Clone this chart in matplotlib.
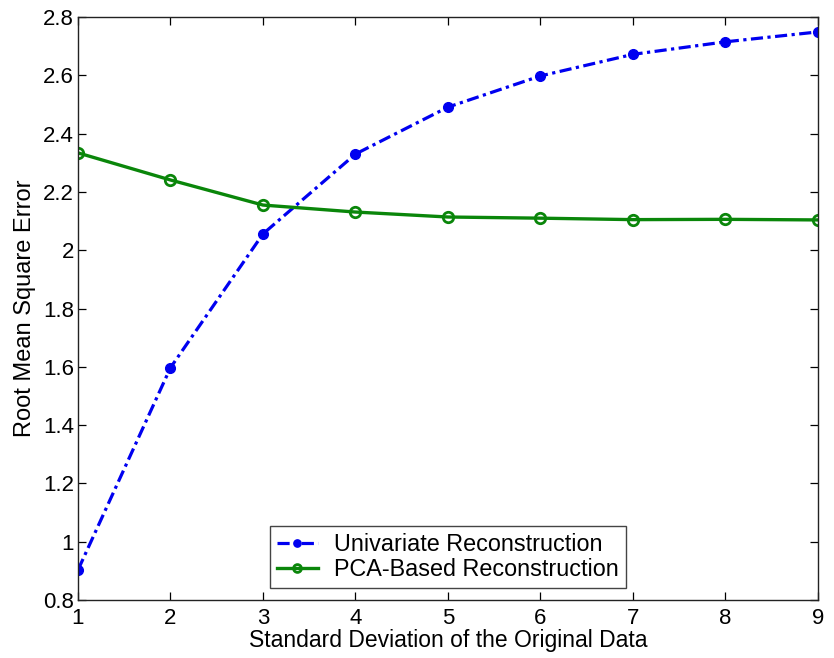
import matplotlib
matplotlib.use("Agg")
import matplotlib.pyplot as plt

plt.rcParams['font.family'] = ['Liberation Sans', 'DejaVu Sans']

std_dev = [1, 2, 3, 4, 5, 6, 7, 8, 9]
univariate = [0.903, 1.597, 2.056, 2.330, 2.491, 2.598, 2.672, 2.715, 2.749]
pca_based = [2.334, 2.241, 2.155, 2.131, 2.114, 2.110, 2.105, 2.106, 2.104]
y_ticks = [0.8, 1, 1.2, 1.4, 1.6, 1.8, 2, 2.2, 2.4, 2.6, 2.8]
y_tick_labels = ['0.8', '1', '1.2', '1.4', '1.6', '1.8', '2', '2.2', '2.4', '2.6', '2.8']

fig = plt.figure(figsize=(8.34, 6.58), dpi=100)
ax = fig.add_axes([0.0935, 0.0881, 0.8873, 0.886])

ax.plot(std_dev, univariate, color='#0000f0', linestyle=(0, (3.8, 1.4, 1.0, 1.4)),
        linewidth=2.3, marker='o', markersize=7, label='Univariate Reconstruction')
ax.plot(std_dev, pca_based, color='#0a860a', linestyle='-', linewidth=2.4,
        marker='o', markersize=7.5, markerfacecolor='none', markeredgewidth=2,
        label='PCA-Based Reconstruction')

ax.set_xlim(1, 9)
ax.set_ylim(0.8, 2.8)
ax.set_xticks(std_dev)
ax.set_yticks(y_ticks)
ax.set_yticklabels(y_tick_labels)
ax.tick_params(direction='in', top=True, right=True, labelsize=16, length=6, width=0.9)
ax.tick_params(axis='x', pad=6)
ax.tick_params(axis='y', pad=3)
for s in ax.spines.values():
    s.set_linewidth(1.0)
    s.set_color('#222222')

ax.set_xlabel('Standard Deviation of the Original Data', fontsize=16.5, labelpad=0)
ax.set_ylabel('Root Mean Square Error', fontsize=17, labelpad=5)

leg = ax.legend(loc='lower center', bbox_to_anchor=(0.5, 0.02), fontsize=16.8,
                frameon=True, fancybox=False, edgecolor='#444444', framealpha=1,
                borderpad=0.3, labelspacing=0.1, handlelength=1.75,
                handletextpad=0.7, borderaxespad=0, markerscale=0.75)
leg.get_frame().set_linewidth(1.0)

fig.savefig('out.png', dpi=100)
